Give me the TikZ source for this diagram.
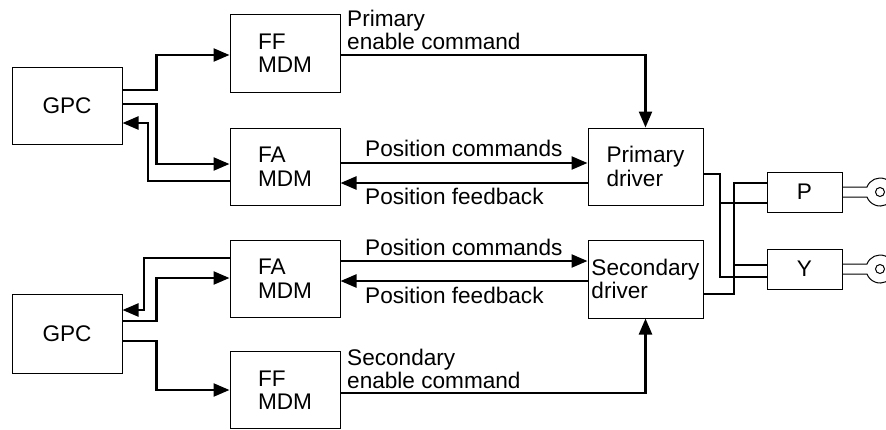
\documentclass[tikz,border=0pt]{standalone}
\usepackage{fontspec}
\setmainfont{Liberation Sans}
\usetikzlibrary{arrows.meta}
\begin{document}
\begin{tikzpicture}[x=1pt,y=-1pt,
  txt/.style={font=\fontsize{22.6}{23.5}\selectfont},
  box/.style={draw, line width=1pt, inner sep=0pt, align=left, txt},
  lbl/.style={inner sep=0pt, anchor=base west, txt},
  conn/.style={line width=2.4pt, -{Triangle[length=16pt,width=13pt]}},
  wire/.style={line width=2.4pt},
  thin/.style={line width=1pt}]
\useasboundingbox (0,0) rectangle (886,429);
% boxes
\node[box, minimum width=110pt, minimum height=77pt] (gpc1) at (67,105.5) {GPC};
\node[box, minimum width=110pt, minimum height=79pt] (gpc2) at (67,333.5) {GPC};
\node[box, minimum width=110pt, minimum height=78pt] (ff1) at (285,53) {FF\\MDM};
\node[box, minimum width=110pt, minimum height=77pt] (fa1) at (285,166.5) {FA\\MDM};
\node[box, minimum width=110pt, minimum height=77pt] (fa2) at (285,278.5) {FA\\MDM};
\node[box, minimum width=110pt, minimum height=77pt] (ff2) at (285,390) {FF\\MDM};
\node[box, minimum width=115pt, minimum height=77pt] (pd) at (645.5,166.5) {Primary\\driver};
\node[box, minimum width=115pt, minimum height=78pt] (sd) at (645.5,279) {Secondary\\driver};
\node[box, minimum width=75pt, minimum height=40pt] (P) at (804.5,192) {P};
\node[box, minimum width=75pt, minimum height=40pt] (Y) at (804.5,269) {Y};
% labels
\node[lbl] (l1) at (347,26) {Primary};
\node[lbl] (l2) at (347,49) {enable command};
\node[lbl] (l3) at (365,156) {Position commands};
\node[lbl] (l4) at (365,204) {Position feedback};
\node[lbl] (l5) at (365,255) {Position commands};
\node[lbl] (l6) at (365,303) {Position feedback};
\node[lbl] (l7) at (347,365) {Secondary};
\node[lbl] (l8) at (347,388) {enable command};
% top GPC connectors
\draw[conn] (gpc1.east |- 0,90) -- ++(34,0) |- (ff1.west |- 0,55);
\draw[conn] (gpc1.east |- 0,104) -- ++(34,0) |- (fa1.west |- 0,164);
\draw[conn] (fa1.west |- 0,181) -| (148,123) -- (gpc1.east |- 0,123);
% bottom GPC connectors
\draw[conn] (fa2.west |- 0,258) -| (144,310) -- (gpc2.east |- 0,310);
\draw[conn] (gpc2.east |- 0,321) -- ++(34,0) |- (fa2.west |- 0,278);
\draw[conn] (gpc2.east |- 0,341) -- ++(34,0) |- (ff2.west |- 0,390);
% enable commands
\draw[conn] (ff1.east |- 0,55) -| (pd.north);
\draw[conn] (ff2.east |- 0,393) -| (sd.south);
% position commands / feedback
\draw[conn] (fa1.east |- 0,163) -- (pd.west |- 0,163);
\draw[conn] (pd.west |- 0,183) -- (fa1.east |- 0,183);
\draw[conn] (fa2.east |- 0,261) -- (sd.west |- 0,261);
\draw[conn] (sd.west |- 0,281) -- (fa2.east |- 0,281);
% driver wiring
\coordinate (jp) at (720,203);
\coordinate (js) at (734,265);
\draw[wire] (pd.east |- 0,174) -| (720,277) -- (Y.west |- 0,277);
\draw[wire] (jp) -- (P.west |- jp);
\draw[wire] (sd.east |- 0,294) -| (734,183) -- (P.west |- 0,183);
\draw[wire] (js) -- (Y.west |- js);
% actuator symbols
\foreach \n/\yc in {P/192, Y/269}{
  \draw[thin] (\n.east |- 0,\yc-5) -- (867,\yc-5)
     arc[start angle=159, end angle=-159, radius=14pt] -- (\n.east |- 0,\yc+5);
  \draw[thin] (880,\yc) circle[radius=4.5pt];
}
\end{tikzpicture}
\end{document}
